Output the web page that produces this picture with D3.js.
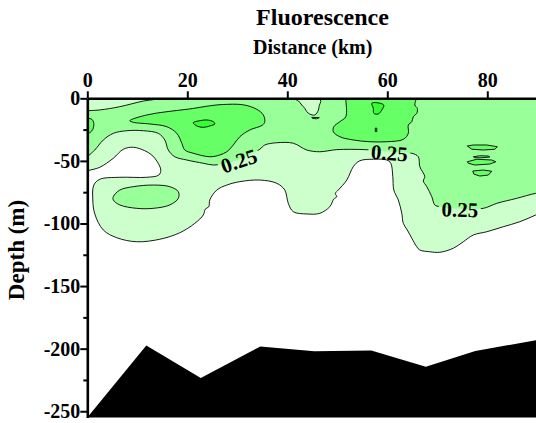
<!DOCTYPE html>
<meta charset='utf-8'>
<style>
  body { margin: 0; background: #fff; }
  svg { display: block; }
</style>
<body>
<script src='https://d3js.org/d3.v7.min.js'></script>
<script>
  // axis ticks
  const distanceTicks = [0, 20, 40, 60, 80];
  const depthTicks = [0, -50, -100, -150, -200, -250];
  const depthMinorTicks = [-25, -75, -125, -175, -225];

  // sea floor (km, m)
  const bottomKm = [0, 11.8, 22.7, 34.6, 45.4, 56.8, 67.7, 77.6, 92];
  const bottomDepth = [-255, -197.4, -223.4, -198.2, -202, -201.5, -214.4, -201.8, -191.8];

  const contourLow = [[0,-57.8],[2.5,-55.1],[5.2,-47.9],[7.2,-40.7],[9.2,-39.1],[11.5,-41.9],[12.9,-45.3],[14.0,-50.7],[14.7,-57.3],[14.3,-61.3],[11.9,-63.1],[6.5,-63.1],[2.5,-64.7],[1.3,-69.3],[1.1,-81.2],[1.5,-92.4],[3.2,-105.2],[5.9,-111.4],[9.9,-114.6],[14.5,-112.6],[18.5,-107.4],[21.5,-99.9],[23.2,-93.2],[23.6,-88.5],[24.3,-86.6],[24.5,-81.2],[25.9,-73.3],[27.9,-69.3],[30.5,-66.6],[34.5,-65.3],[37.9,-67.9],[39.5,-73.3],[40.2,-83.9],[41.2,-90.6],[43.9,-92.4],[46.5,-91.9],[48.5,-86.6],[49.3,-80.5],[49.9,-78.6],[49.6,-76.0],[50.2,-73.3],[51.9,-65.3],[53.2,-54.6],[54.5,-49.9],[57.2,-48.7],[59.9,-49.3],[60.7,-51.9],[61.1,-62.6],[61.3,-73.3],[62.2,-81.2],[62.9,-91.9],[63.2,-99.9],[64.0,-105.2],[64.9,-111.8],[65.9,-118.6],[66.5,-121.2],[68.5,-122.6],[70.5,-123.0],[73.2,-119.8],[75.2,-114.6],[77.2,-109.2],[79.9,-106.6],[83.2,-102.6],[86.5,-98.6],[89.7,-93.2],[92,-89]];
  const contour025 = [[0,-46.7],[1.5,-41.3],[3.2,-33.3],[5.2,-28.0],[7.9,-25.9],[11.2,-25.9],[14.2,-28.0],[15.5,-33.3],[16.2,-41.3],[17.5,-46.7],[19.9,-49.3],[23.2,-51.9],[25.2,-53.3],[26.9,-52.5],[29.5,-50],[32,-46],[34.5,-40.7],[35.5,-37.3],[37.9,-35.5],[41.2,-35.9],[43.9,-41.3],[46.5,-42.7],[49.9,-41.0],[55.5,-41.0],[58.5,-42],[61.5,-43],[64.9,-43.9],[66.2,-46.7],[66.5,-54.6],[67.5,-62.6],[67.2,-66],[67.9,-70.6],[68.9,-78.6],[69.5,-85.2],[70.5,-86.6],[73,-87.8],[76,-88.2],[79.2,-87.9],[81.9,-83.9],[85.9,-79.9],[89.7,-75.9],[92,-75]];
  const surfaceWedge = [[0,-9.9],[2.5,-9.3],[6.5,-6.7],[11.2,-2.2],[13.9,-0.6],[15,1]];
  const surfacePocket = [[41.0,3],[41.2,0],[42.2,-2],[42.9,-5.4],[43.5,-8],[43.9,-10.7],[44.5,-12.6],[45.5,-13.3],[46.2,-9.6],[46.4,-5.6],[46.7,-2.5],[46.5,0],[46.5,3]];
  const pocketSliver = [[44.9,-15.2],[46.4,-15.5],[45.8,-16.4],[45.0,-16.0]];
  const deepPatch = [[5.2,-78.6],[6.5,-73.3],[9.2,-70.6],[13.2,-69.3],[16.5,-70.6],[18.2,-74.6],[18.2,-79.9],[16.5,-85.2],[13.2,-87.9],[9.9,-87.9],[6.5,-85.2],[5.2,-81.2]];
  const edgePatch = [[-2,-16],[0,-16],[0.9,-16.8],[1.3,-20],[1.1,-24.8],[0.5,-27.5],[0,-28],[-2,-28]];
  const westPatch = [[8.5,-17.9],[11.9,-13.3],[15.9,-10.7],[20.5,-8.5],[24.5,-6],[27,-5],[31.2,-5.2],[33.9,-8.8],[35.2,-13.3],[35.5,-18.7],[35.0,-21.5],[32.5,-25.3],[30.5,-30.7],[29.2,-37.3],[27.9,-42.7],[26.5,-45.3],[24.5,-46.7],[21.2,-43.9],[19.5,-41.3],[18.9,-35.9],[17.9,-28.0],[15.9,-22.7],[12.5,-20.5],[9.2,-19.2]];
  const westCore = [[21.2,-19.5],[22.5,-17.9],[23.9,-17.3],[25.2,-18.7],[25.5,-20.5],[24.5,-22.1],[23.2,-23.2],[21.9,-22.1]];
  const eastPatch = [[51.7,3],[51.7,-0.5],[51.7,-14.7],[50.5,-18.7],[49.3,-22.7],[49.2,-26.7],[50.5,-30.7],[53.2,-33.3],[56.5,-34.7],[59.9,-34.7],[63.2,-32.8],[64.2,-28.0],[64.2,-21.3],[64.9,-18.7],[65.2,-14.7],[65.9,-12.0],[66.0,-8.0],[65.5,-5.4],[65.7,-1.4],[65.7,3]];
  const eastCore = [[56.9,-4.0],[57.9,-3.5],[59.3,-5.4],[58.9,-9.3],[58.2,-12.5],[57.3,-12.0],[57.2,-8.0]];
  const eastDot = [[57.6,-23.8],[57.9,-23.9],[57.9,-26.6],[57.6,-26.6]];
  const lens1 = [[76.0,-38.1],[77.2,-37.3],[79.9,-37.3],[82.0,-38.7],[81.5,-40.7],[79.2,-41.3],[76.9,-40.7]];
  const lens2 = [[77.2,-46.7],[78.5,-45.9],[80.2,-46.1],[80.5,-46.9],[78.9,-47.5],[77.5,-47.5]];
  const lens3 = [[76.0,-50.7],[77.9,-48.7],[80.9,-49.3],[81.7,-50.7],[80.5,-52.5],[77.5,-53.3],[76.2,-51.9]];
  const lens4 = [[77.1,-58.1],[79.2,-57.3],[80.9,-58.3],[80.2,-61.3],[78.5,-62.1],[77.3,-60.5]];

  // contour labels
  const labelKm = [30.3, 60.4, 74.5];
  const labelDepth = [-49.9, -43.5, -88.8];
  const labelText = ['0.25', '0.25', '0.25'];
  const labelAngle = [-19, 4, 2];

  const width = 536;
  const height = 423;
  const serif = "Liberation Serif, Times New Roman, Times, serif";

  const x = d3.scaleLinear().domain([0, 90]).range([87.3, 537.3]);
  const y = d3.scaleLinear().domain([0, -255]).range([98.3, 417.5]);

  const svg = d3.select('body').append('svg')
    .attr('width', width)
    .attr('height', height)
    .attr('font-family', serif)
    .attr('font-weight', 'bold');

  const defs = svg.append('defs');
  defs.append('clipPath')
    .attr('id', 'plot')
    .append('rect')
    .attr('x', x(0))
    .attr('y', y(0))
    .attr('width', x(90) - x(0))
    .attr('height', y(-255) - y(0));

  const mask = defs.append('mask')
    .attr('id', 'lbl')
    .attr('maskUnits', 'userSpaceOnUse')
    .attr('x', 0).attr('y', 0)
    .attr('width', width).attr('height', height);
  mask.append('rect')
    .attr('width', width).attr('height', height)
    .attr('fill', '#fff');
  labelKm.forEach((k, i) => {
    mask.append('rect')
      .attr('x', -21).attr('y', -11)
      .attr('width', 42).attr('height', 22)
      .attr('fill', '#000')
      .attr('transform', `translate(${x(k)},${y(labelDepth[i])}) rotate(${labelAngle[i]})`);
  });

  const smooth = d3.line()
    .x(d => x(d[0]))
    .y(d => y(d[1]))
    .curve(d3.curveCatmullRom.alpha(0.5));
  const smoothClosed = d3.line()
    .x(d => x(d[0]))
    .y(d => y(d[1]))
    .curve(d3.curveCatmullRomClosed.alpha(0.5));
  const straightClosed = d3.line()
    .x(d => x(d[0]))
    .y(d => y(d[1]))
    .curve(d3.curveLinearClosed);

  // area above a contour line, closed along the sea surface
  const above = pts => {
    const a = pts[0], b = pts[pts.length - 1];
    return smooth(pts) +
      `L${x(b[0])},${y(10)}L${x(-5)},${y(10)}L${x(-5)},${y(a[1])}Z`;
  };

  const colors = { light: '#ccffcc', mid: '#99ff99', green: '#66ff66', bright: '#33ff33' };

  const plot = svg.append('g').attr('clip-path', 'url(#plot)');

  plot.append('path').attr('d', above(contourLow)).attr('fill', colors.light);
  plot.append('path').attr('d', above(contour025)).attr('fill', colors.mid);
  plot.append('path').attr('d', above(surfaceWedge)).attr('fill', colors.light);

  const shapes = [
    [surfacePocket, colors.light, smoothClosed],
    [pocketSliver, colors.light, straightClosed],
    [deepPatch, colors.mid, smoothClosed],
    [edgePatch, colors.green, smoothClosed],
    [westPatch, colors.green, smoothClosed],
    [eastPatch, colors.green, smoothClosed],
    [lens1, colors.green, straightClosed],
    [lens2, colors.green, straightClosed],
    [lens3, colors.green, straightClosed],
    [lens4, colors.green, straightClosed],
    [westCore, colors.bright, smoothClosed],
    [eastCore, colors.bright, smoothClosed],
    [eastDot, colors.bright, straightClosed]
  ];

  plot.selectAll('.patch')
    .data(shapes)
    .enter().append('path')
    .attr('class', 'patch')
    .attr('d', d => d[2](d[0]))
    .attr('fill', d => d[1])
    .attr('stroke', '#000')
    .attr('stroke-width', 0.9);

  plot.append('path')
    .attr('d', smooth(contourLow))
    .attr('fill', 'none').attr('stroke', '#000').attr('stroke-width', 0.9);
  plot.append('path')
    .attr('d', smooth(surfaceWedge))
    .attr('fill', 'none').attr('stroke', '#000').attr('stroke-width', 0.9);
  plot.append('path')
    .attr('d', smooth(contour025))
    .attr('mask', 'url(#lbl)')
    .attr('fill', 'none').attr('stroke', '#000').attr('stroke-width', 0.9);

  labelKm.forEach((k, i) => {
    plot.append('text')
      .attr('transform', `translate(${x(k)},${y(labelDepth[i])}) rotate(${labelAngle[i]})`)
      .attr('dy', '0.35em')
      .attr('text-anchor', 'middle')
      .attr('font-size', 21)
      .text(labelText[i]);
  });

  // sea floor
  const floor = bottomKm.map((k, i) => [k, bottomDepth[i]]);
  floor.push([92, -270], [0, -270]);
  plot.append('path')
    .attr('d', straightClosed(floor))
    .attr('fill', '#000');

  // axes
  const fmt = d => String(d);
  svg.append('g')
    .attr('transform', `translate(0,${y(0)})`)
    .call(d3.axisTop(x).tickValues(distanceTicks).tickSize(7).tickSizeOuter(0).tickPadding(4).tickFormat(fmt));
  svg.append('g')
    .attr('transform', `translate(${x(0)},0)`)
    .call(d3.axisLeft(y).tickValues(depthTicks).tickSize(7).tickSizeOuter(0).tickPadding(0).tickFormat(fmt));
  const yMinor = svg.append('g')
    .attr('transform', `translate(${x(0)},0)`)
    .call(d3.axisLeft(y).tickValues(depthMinorTicks).tickSize(4).tickSizeOuter(0).tickFormat(''));
  yMinor.select('.domain').remove();

  svg.selectAll('.domain').attr('stroke', '#000').attr('stroke-width', 2.6);
  svg.selectAll('.tick line').attr('stroke', '#000').attr('stroke-width', 2);
  svg.selectAll('.tick text')
    .attr('fill', '#000')
    .attr('font-family', serif)
    .attr('font-weight', 'bold')
    .attr('font-size', 20);

  svg.append('text')
    .attr('x', 322.5).attr('y', 25)
    .attr('text-anchor', 'middle')
    .attr('font-size', 24)
    .text('Fluorescence');

  svg.append('text')
    .attr('x', 312.7).attr('y', 53.5)
    .attr('text-anchor', 'middle')
    .attr('font-size', 20)
    .text('Distance (km)');

  svg.append('text')
    .attr('transform', 'translate(24,250) rotate(-90)')
    .attr('text-anchor', 'middle')
    .attr('font-size', 23)
    .text('Depth (m)');
</script>
